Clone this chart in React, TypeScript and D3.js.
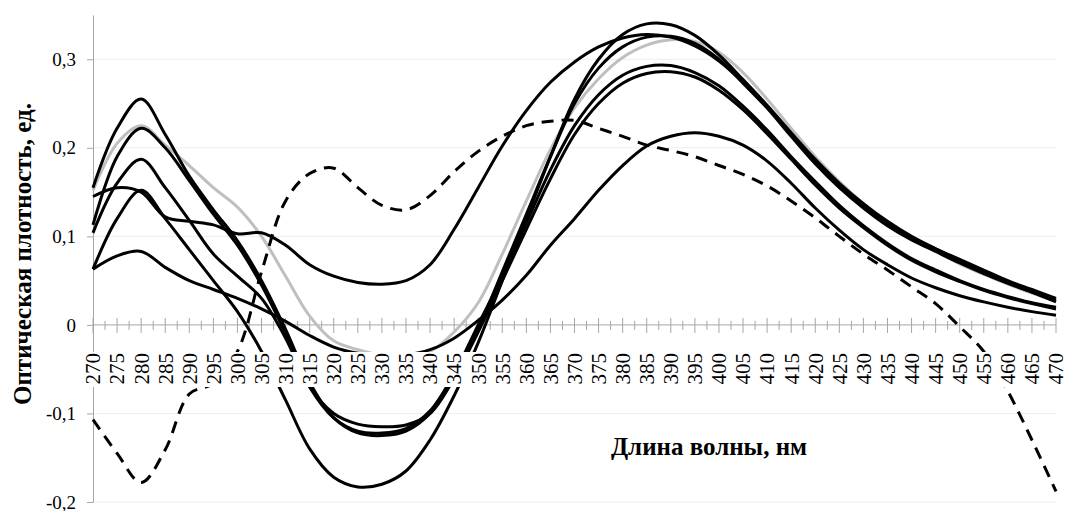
import React, { useEffect, useRef } from 'react';
import * as d3 from 'd3';

// wavelength categories, nm
const wavelengths = [270, 275, 280, 285, 290, 295, 300, 305, 310, 315, 320, 325, 330, 335, 340, 345, 350, 355, 360, 365, 370, 375, 380, 385, 390, 395, 400, 405, 410, 415, 420, 425, 430, 435, 440, 445, 450, 455, 460, 465, 470];

const yTicks = [-0.2, -0.1, 0, 0.1, 0.2, 0.3];

// series values
const curveA = [0.155, 0.222, 0.255, 0.215, 0.168, 0.13, 0.095, 0.05, -0.005, -0.065, -0.105, -0.122, -0.125, -0.12, -0.1, -0.06, -0.005, 0.06, 0.125, 0.19, 0.25, 0.29, 0.314, 0.325, 0.326, 0.318, 0.3, 0.273, 0.245, 0.213, 0.182, 0.155, 0.132, 0.112, 0.096, 0.083, 0.07, 0.058, 0.047, 0.037, 0.028];
const curveB = [0.113, 0.19, 0.222, 0.2, 0.163, 0.125, 0.09, 0.045, -0.01, -0.07, -0.105, -0.12, -0.122, -0.117, -0.097, -0.055, 0.0, 0.055, 0.115, 0.175, 0.225, 0.26, 0.282, 0.292, 0.293, 0.285, 0.27, 0.247, 0.22, 0.19, 0.162, 0.135, 0.112, 0.092, 0.075, 0.062, 0.05, 0.04, 0.032, 0.025, 0.02];
const curveC = [0.104, 0.16, 0.187, 0.155, 0.118, 0.08, 0.055, 0.03, -0.015, -0.07, -0.1, -0.112, -0.115, -0.113, -0.1, -0.06, -0.008, 0.05, 0.108, 0.165, 0.215, 0.25, 0.273, 0.284, 0.286, 0.28, 0.265, 0.243, 0.216, 0.187, 0.158, 0.132, 0.11, 0.09, 0.073, 0.06, 0.049, 0.039, 0.031, 0.024, 0.018];
const curveD = [0.145, 0.155, 0.15, 0.122, 0.117, 0.113, 0.103, 0.104, 0.09, 0.068, 0.055, 0.048, 0.046, 0.05, 0.068, 0.108, 0.155, 0.202, 0.242, 0.274, 0.297, 0.314, 0.324, 0.328, 0.325, 0.315, 0.298, 0.274, 0.246, 0.215, 0.185, 0.158, 0.135, 0.115, 0.099, 0.086, 0.074, 0.062, 0.05, 0.04, 0.03];
const curveE = [0.063, 0.12, 0.152, 0.12, 0.085, 0.05, 0.015, -0.03, -0.085, -0.14, -0.172, -0.183, -0.18, -0.165, -0.13, -0.08, -0.02, 0.05, 0.12, 0.19, 0.255, 0.3, 0.328, 0.34, 0.339, 0.327, 0.305, 0.277, 0.248, 0.217, 0.187, 0.16, 0.137, 0.117, 0.1, 0.086, 0.073, 0.06, 0.048, 0.037, 0.026];
const curveF = [0.063, 0.078, 0.083, 0.065, 0.05, 0.04, 0.03, 0.018, 0.004, -0.012, -0.025, -0.032, -0.035, -0.034, -0.028, -0.015, 0.005, 0.028, 0.056, 0.09, 0.12, 0.152, 0.18, 0.202, 0.213, 0.217, 0.213, 0.203, 0.185, 0.16, 0.132, 0.107, 0.085, 0.068, 0.053, 0.042, 0.033, 0.026, 0.02, 0.015, 0.011];
const curveGray = [0.152, 0.205, 0.225, 0.203, 0.18, 0.155, 0.133, 0.1, 0.055, 0.01, -0.018, -0.028, -0.034, -0.035, -0.03, -0.008, 0.025, 0.08, 0.14, 0.198, 0.245, 0.278, 0.302, 0.316, 0.322, 0.32, 0.308, 0.285, 0.255, 0.222, 0.19, 0.162, 0.137, 0.116, 0.098, 0.083, 0.069, 0.057, 0.046, 0.036, 0.027];
const curveDashed = [-0.107, -0.145, -0.178, -0.141, -0.078, -0.066, -0.03, 0.06, 0.14, 0.171, 0.177, 0.155, 0.135, 0.13, 0.146, 0.173, 0.196, 0.213, 0.225, 0.23, 0.231, 0.222, 0.213, 0.203, 0.197, 0.19, 0.18, 0.17, 0.157, 0.14, 0.121, 0.1, 0.08, 0.062, 0.043, 0.024, -0.002, -0.03, -0.075, -0.13, -0.188];

const yTitle = 'Оптическая плотность, ед.';
const xTitle = 'Длина волны, нм';

const fmt = (v: number) => (v === 0 ? '0' : v.toFixed(1).replace('.', ','));

const App = () => {
  const svgRef = useRef<SVGSVGElement | null>(null);

  useEffect(() => {
    const svg = d3.select(svgRef.current);
    svg.selectAll('*').remove();

    const x = d3.scaleLinear().domain([270, 470]).range([93, 1056]);
    const y = d3.scaleLinear().domain([-0.2, 0.35]).range([502, 15]);
    const y0 = y(0);

    // faint grid
    svg.append('g')
      .selectAll('line')
      .data(yTicks.filter(t => t !== 0))
      .enter()
      .append('line')
      .attr('x1', x(270))
      .attr('x2', x(470))
      .attr('y1', d => y(d))
      .attr('y2', d => y(d))
      .attr('stroke', '#eeeeee')
      .attr('stroke-width', 1);

    // y axis
    const yAxis = svg.append('g')
      .attr('transform', `translate(${x(270)},0)`)
      .call(d3.axisLeft(y).tickValues(yTicks).tickSize(6).tickSizeOuter(0).tickFormat(d => fmt(d as number)));
    yAxis.select('.domain').attr('stroke', '#a6a6a6');
    yAxis.selectAll('.tick line').attr('stroke', '#a6a6a6');
    yAxis.selectAll('.tick text')
      .attr('x', -17)
      .attr('fill', '#000')
      .style('font-family', '"Liberation Serif", serif')
      .style('font-size', '19px');

    // x axis line and ticks
    svg.append('line')
      .attr('x1', x(270)).attr('x2', x(470))
      .attr('y1', y0).attr('y2', y0)
      .attr('stroke', '#a6a6a6');
    svg.append('g')
      .selectAll('line')
      .data(wavelengths)
      .enter()
      .append('line')
      .attr('x1', d => x(d)).attr('x2', d => x(d))
      .attr('y1', y0 - 7).attr('y2', y0 + 8)
      .attr('stroke', '#a6a6a6');
    svg.append('g')
      .selectAll('line')
      .data(wavelengths.slice(0, -1))
      .enter()
      .append('line')
      .attr('x1', d => x(d + 2.5)).attr('x2', d => x(d + 2.5))
      .attr('y1', y0 - 4).attr('y2', y0 + 5)
      .attr('stroke', '#a6a6a6');

    const line = d3.line<number>()
      .x((d, i) => x(wavelengths[i]))
      .y(d => y(d))
      .curve(d3.curveCatmullRom.alpha(0.5));

    const series = [
      { values: curveGray, color: '#bfbfbf', dash: null },
      { values: curveA, color: '#000', dash: null },
      { values: curveB, color: '#000', dash: null },
      { values: curveC, color: '#000', dash: null },
      { values: curveD, color: '#000', dash: null },
      { values: curveE, color: '#000', dash: null },
      { values: curveF, color: '#000', dash: null },
      { values: curveDashed, color: '#000', dash: '12,8' },
    ];

    svg.append('g')
      .selectAll('path')
      .data(series)
      .enter()
      .append('path')
      .attr('d', d => line(d.values))
      .attr('fill', 'none')
      .attr('stroke', d => d.color)
      .attr('stroke-width', 3)
      .attr('stroke-dasharray', d => d.dash);

    // white band under the category labels
    svg.append('rect')
      .attr('x', 86).attr('y', 352)
      .attr('width', 978).attr('height', 35)
      .attr('fill', '#fff');

    svg.append('g')
      .selectAll('text')
      .data(wavelengths)
      .enter()
      .append('text')
      .attr('transform', d => `translate(${x(d)},353) rotate(-90)`)
      .attr('text-anchor', 'end')
      .attr('dy', '0.35em')
      .style('font-family', '"Liberation Serif", serif')
      .style('font-size', '21px')
      .text(d => d);

    // titles
    svg.append('text')
      .attr('transform', 'translate(31,254) rotate(-90)')
      .attr('text-anchor', 'middle')
      .style('font-family', '"Liberation Serif", serif')
      .style('font-weight', 'bold')
      .style('font-size', '25px')
      .text(yTitle);

    svg.append('text')
      .attr('x', 709)
      .attr('y', 455)
      .attr('text-anchor', 'middle')
      .style('font-family', '"Liberation Serif", serif')
      .style('font-weight', 'bold')
      .style('font-size', '25px')
      .text(xTitle);
  }, []);

  return (
    <div style={{ position: 'absolute', left: 0, top: 0 }}>
      <svg ref={svgRef} width={1065} height={511} style={{ display: 'block', background: '#fff' }} />
    </div>
  );
};

export default App;
